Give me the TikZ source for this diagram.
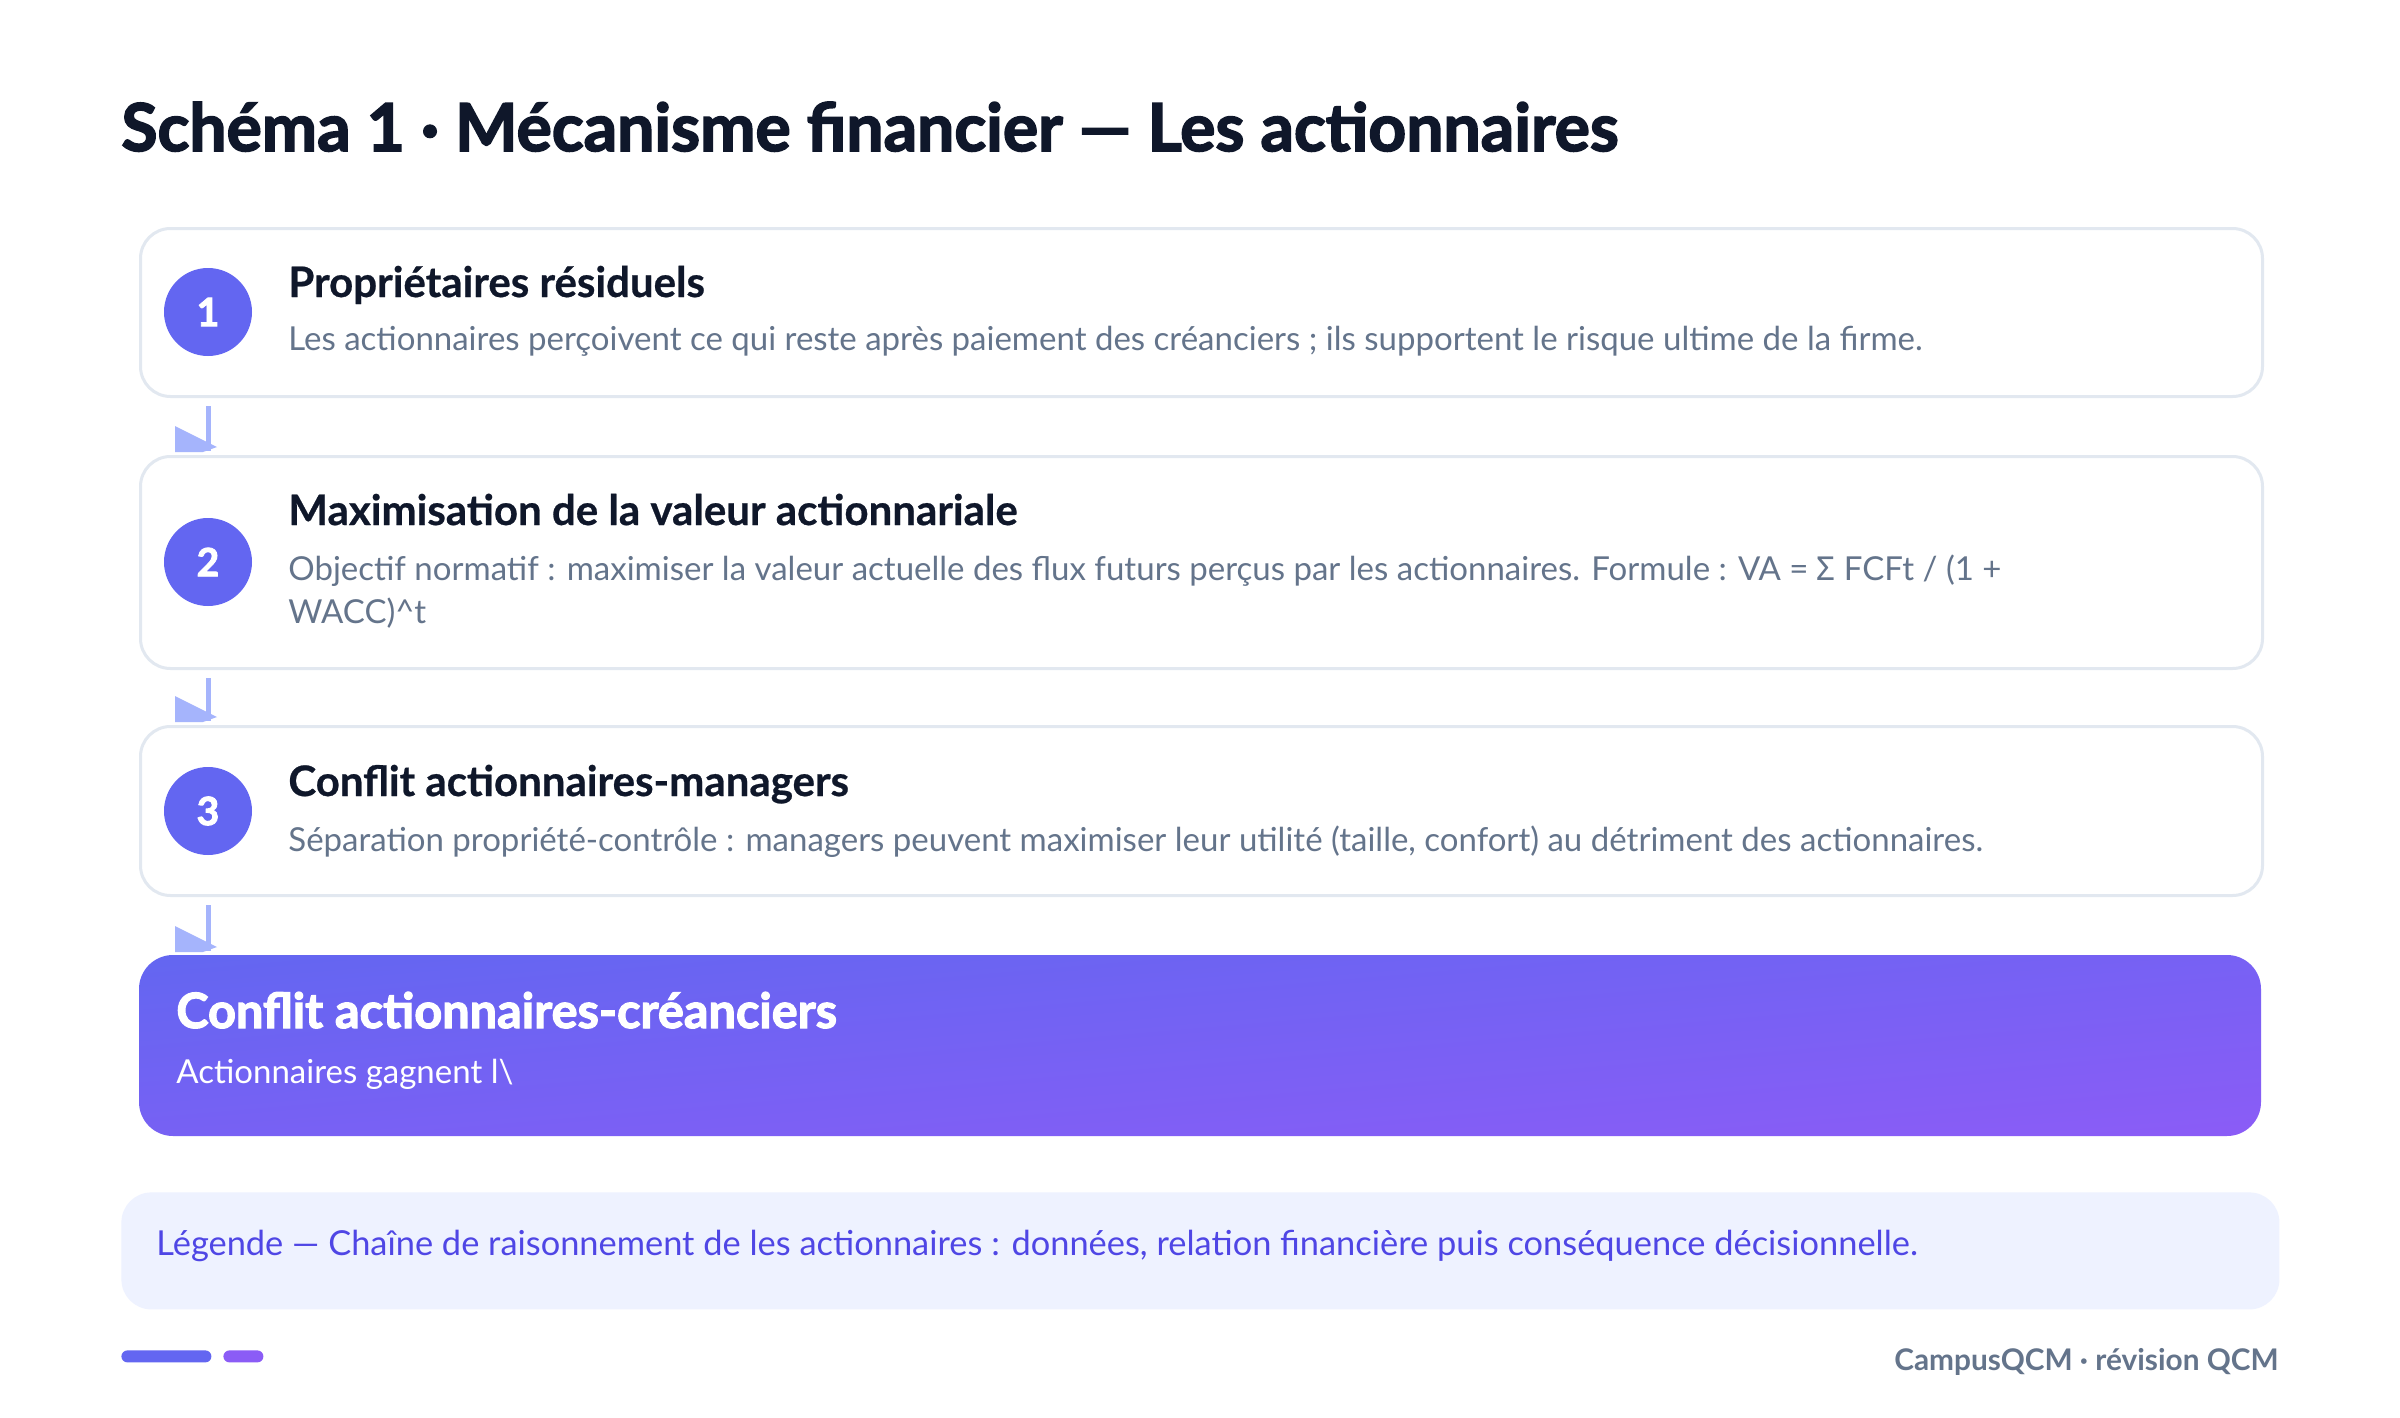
\documentclass[tikz,border=0pt]{standalone}
\usepackage{fontspec}
\setmainfont{Lato}
\newfontfamily\symfont{Noto Sans}
\newfontfamily\heavyfont[FakeBold=2.4]{Lato Bold}
\newfontfamily\semiheavy[FakeBold=0.6]{Lato Bold}
\usetikzlibrary{calc}
\definecolor{ink}{HTML}{0F172A}
\definecolor{muted}{HTML}{64748B}
\definecolor{edge}{HTML}{E2E8F0}
\definecolor{indigo}{HTML}{6366F1}
\definecolor{violet}{HTML}{8B5CF6}
\definecolor{arrowc}{HTML}{A5B4FC}
\definecolor{legfill}{HTML}{EEF2FF}
\definecolor{legtext}{HTML}{4F46E5}
\tikzset{
  card/.style={draw=edge, line width=1.5pt, fill=white, rounded corners=15pt,
    anchor=north west, minimum width=1061pt, inner sep=0pt},
  badge/.style={circle, fill=indigo, minimum size=44pt, inner sep=0pt,
    text=white, font=\heavyfont\fontsize{19.5}{21}\selectfont},
  steptitle/.style={anchor=base west, inner sep=0pt, text=ink,
    font=\semiheavy\fontsize{21}{24}\selectfont},
  stepbody/.style={anchor=base west, inner sep=0pt, text=muted,
    font=\fontsize{16.5}{20}\selectfont},
  flowline/.style={draw=arrowc, line width=2.5pt},
  flowhead/.style={fill=arrowc},
  pill/.style={rounded corners=3pt, minimum height=6pt, inner sep=0pt, anchor=north west}
}
\begin{document}
\begin{tikzpicture}[x=0.5pt,y=-0.5pt]
\useasboundingbox (0,0) rectangle (2400,1418);
\fill[white] (0,0) rectangle (2400,1418);

% title
\node[anchor=base west, inner sep=0pt, text=ink, font=\heavyfont\fontsize{33}{38}\selectfont]
  (title) at (121,151) {Schéma 1 · Mécanisme financier — Les actionnaires};

% cards
\node[card, minimum height=84pt] (b1) at (139,227) {};
\node[card, minimum height=106pt] (b2) at (139,455) {};
\node[card, minimum height=84.5pt] (b3) at (139,725) {};

% gradient card (isolines along the box diagonal)
\begin{scope}
  \clip[rounded corners=17pt] (139,955) rectangle (2261,1136);
  \begin{scope}[transform canvas={rotate around={4.88:(1200,1045.5)}}]
    \shade[top color=indigo, bottom color=violet] (50,865.15) rectangle (2350,1225.85);
  \end{scope}
\end{scope}
\node[anchor=north west, minimum width=1061pt, minimum height=90.5pt, inner sep=0pt,
  rounded corners=17pt] (b4) at (139,955) {};

% badges
\node[badge] (c1) at (208,312) {1};
\node[badge] (c2) at (208,562) {2};
\node[badge] (c3) at (208,811) {3};

% texts
\node[steptitle] (t1) at (288,297) {Propriétaires résiduels};
\node[stepbody] (d1) at (288,350) {Les actionnaires perçoivent ce qui reste après paiement des créanciers ; ils supportent le risque ultime de la firme.};
\node[steptitle] (t2) at (288,525) {Maximisation de la valeur actionnariale};
\node[stepbody] (d2) at (288,580) {Objectif normatif : maximiser la valeur actuelle des flux futurs perçus par les actionnaires. Formule : VA = {\symfont Σ} FCFt / (1 +};
\node[stepbody] (d2b) at (288,623) {WACC)\textasciicircum t};
\node[steptitle] (t3) at (288,796) {Conflit actionnaires-managers};
\node[stepbody] (d3) at (288,851) {Séparation propriété-contrôle : managers peuvent maximiser leur utilité (taille, confort) au détriment des actionnaires.};
\node[anchor=base west, inner sep=0pt, text=white, font=\heavyfont\fontsize{24.3}{28}\selectfont]
  (t4) at (176,1028) {Conflit actionnaires-créanciers};
\node[stepbody, text=white] (d4) at (176,1083) {Actionnaires gagnent l\textbackslash};

% connectors
\foreach \a/\b in {b1/b2, b2/b3, b3/b4}{
  \coordinate (s) at ($(\a.south west)+(69,8)$);
  \coordinate (e) at ($(\b.north west)+(69,-4)$);
  \draw[flowline] (s) -- (e);
  \fill[flowhead] ($(e)+(-33,-25)$) -- ($(e)+(9,-4)$) -- ($(e)+(-5,1)$) -- ($(e)+(-33,1)$) -- cycle;
}

% legend
\node[anchor=north west, fill=legfill, rounded corners=15pt, minimum width=1079pt,
  minimum height=58.5pt, inner sep=0pt] (leg) at (121,1192) {};
\node[anchor=base west, inner sep=0pt, text=legtext, font=\fontsize{17.2}{20}\selectfont]
  (legt) at (156,1255) {Légende — Chaîne de raisonnement de les actionnaires : données, relation financière puis conséquence décisionnelle.};

% footer
\node[pill, fill=indigo, minimum width=45pt] (p1) at (121,1350) {};
\node[pill, fill=violet, minimum width=20pt] (p2) at (223,1350) {};
\node[anchor=base east, inner sep=0pt, text=muted, font=\bfseries\fontsize{14.9}{17}\selectfont]
  (foot) at (2279,1370) {CampusQCM · révision QCM};
\end{tikzpicture}
\end{document}
